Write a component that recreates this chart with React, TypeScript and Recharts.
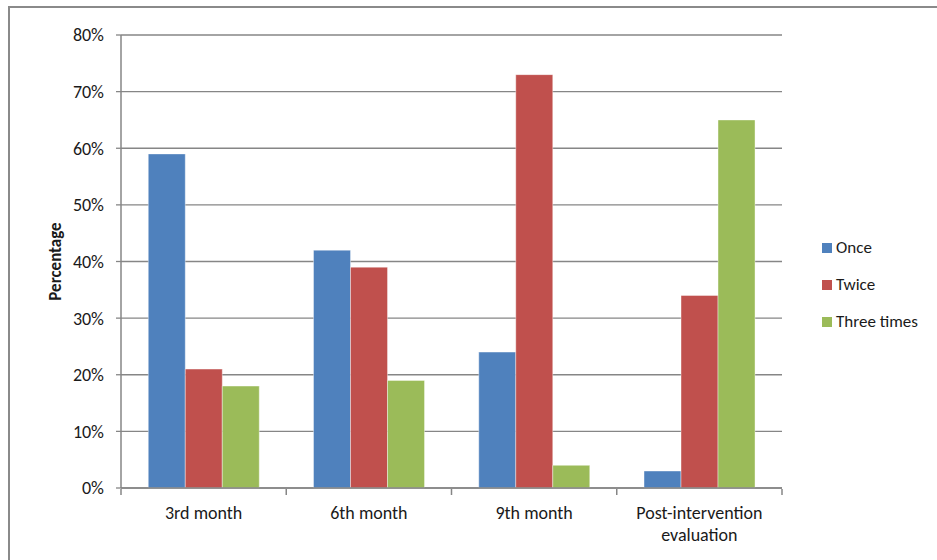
import { BarChart, Bar, XAxis, YAxis, CartesianGrid, Legend, Text } from 'recharts';

const categories = ['3rd month', '6th month', '9th month', 'Post-intervention evaluation'];
const once = [59, 42, 24, 3];
const twice = [21, 39, 73, 34];
const threeTimes = [18, 19, 4, 65];
const yTicks = [0, 10, 20, 30, 40, 50, 60, 70, 80];

const SERIES = [
    { key: 'once', label: 'Once', color: '#4f81bd' },
    { key: 'twice', label: 'Twice', color: '#c0504d' },
    { key: 'threeTimes', label: 'Three times', color: '#9bbb59' },
];

const AXIS_GREY = '#868686';
const TEXT = '#1a1a1a';

const data = categories.map((name, i) => ({
    name,
    once: once[i],
    twice: twice[i],
    threeTimes: threeTimes[i],
}));

// category labels centred in the band, tick marks on the band edges
function CategoryTick(props: any) {
    const { x, y, payload, index, visibleTicksCount } = props;
    const half = payload.offset ?? 0;
    const edges = [x - half];
    if (index === visibleTicksCount - 1) edges.push(x + half);
    const axisY = y - 7;
    return (
        <g>
            {edges.map((ex, i) => (
                <line key={i} x1={ex} x2={ex} y1={axisY} y2={axisY + 6} stroke={AXIS_GREY} strokeWidth={1.5} />
            ))}
            <Text
                x={x}
                y={y + 10}
                width={160}
                textAnchor="middle"
                verticalAnchor="start"
                lineHeight={22}
                fontSize={18}
                fill={TEXT}
            >
                {payload.value}
            </Text>
        </g>
    );
}

function LegendBox() {
    return (
        <div>
            {SERIES.map(s => (
                <div key={s.key} style={{ display: 'flex', alignItems: 'center', height: 37, fontSize: 17, color: TEXT }}>
                    <span style={{ width: 10, height: 10, background: s.color, marginRight: 4 }} />
                    {s.label}
                </div>
            ))}
        </div>
    );
}

export default function App() {
    return (
        <div
            style={{
                position: 'absolute',
                left: 8,
                top: 6,
                width: 940,
                height: 570,
                border: '2px solid #8a8a8a',
                boxSizing: 'border-box',
                background: '#fff',
                fontFamily: 'Carlito, Lato, sans-serif',
            }}
        >
            <BarChart
                width={920}
                height={550}
                data={data}
                margin={{ top: 27, right: 148, bottom: 0, left: 0 }}
                barCategoryGap="16.5%"
                barGap={0}
            >
                <CartesianGrid vertical={false} stroke={AXIS_GREY} strokeWidth={1.3} />
                <XAxis
                    dataKey="name"
                    height={70}
                    interval={0}
                    axisLine={{ stroke: AXIS_GREY, strokeWidth: 1.5 }}
                    tickLine={false}
                    tick={<CategoryTick />}
                />
                <YAxis
                    width={111}
                    domain={[0, 80]}
                    ticks={yTicks}
                    tickFormatter={v => `${v}%`}
                    tickSize={5}
                    tickMargin={12}
                    axisLine={{ stroke: AXIS_GREY, strokeWidth: 1.5 }}
                    tickLine={{ stroke: AXIS_GREY, strokeWidth: 1.3 }}
                    tick={{ fill: TEXT, fontSize: 18 }}
                    label={{
                        content: (p: any) => {
                            const vb = p.viewBox;
                            const cx = vb.x + 45;
                            const cy = vb.y + vb.height / 2;
                            return (
                                <text
                                    x={cx}
                                    y={cy}
                                    transform={`rotate(-90 ${cx} ${cy})`}
                                    textAnchor="middle"
                                    dominantBaseline="central"
                                    fontSize={17}
                                    fontWeight="bold"
                                    fill={TEXT}
                                >
                                    Percentage
                                </text>
                            );
                        },
                    }}
                />
                <Legend
                    layout="vertical"
                    align="center"
                    verticalAlign="middle"
                    content={<LegendBox />}
                    wrapperStyle={{ left: 812, top: 221, width: 125 }}
                />
                {SERIES.map(s => (
                    <Bar
                        key={s.key}
                        dataKey={s.key}
                        name={s.label}
                        fill={s.color}
                        stroke="#ffffff"
                        strokeOpacity={0.5}
                        strokeWidth={0.8}
                        isAnimationActive={false}
                    />
                ))}
            </BarChart>
        </div>
    );
}
